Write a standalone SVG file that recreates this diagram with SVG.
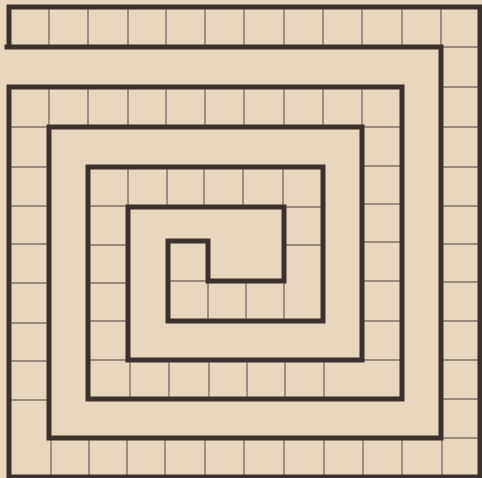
<svg xmlns="http://www.w3.org/2000/svg" width="482" height="478" viewBox="0 0 482 478">
  <style>
    .wall { fill: none; stroke: #3a322d; stroke-width: 5; stroke-linejoin: miter; stroke-linecap: square; }
    .div { stroke: #7d7166; stroke-width: 1.4; fill: none; }
  </style>
  <rect x="0" y="0" width="482" height="478" fill="#e7d8bd"/>
  <g id="dividers">
    <path class="div" d="M49 7V47M88 7V47M128 7V47M166 7V47M205 7V47M244 7V47M284 7V47M323 7V47M362 7V47M402 7V47M441 7V47"/>
    <path class="div" d="M441 47H480M441 87H480M441 127H480M441 167H480M441 206H480M441 244H480M441 282H480M441 321H480M441 360H480M441 399H480M441 438H480"/>
    <path class="div" d="M51 438V477M89 438V477M127 438V477M165 438V477M205 438V477M244 438V477M284 438V477M324 438V477M363 438V477M402 438V477M442 438V477"/>
    <path class="div" d="M9 127H49M9 167H49M9 206H49M9 244H49M9 283H49M9 323H49M9 361H49M9 400H49"/>
    <path class="div" d="M49 87V127M88 87V127M128 87V127M166 87V127M205 87V127M244 87V127M284 87V127M323 87V127M362 87V127"/>
    <path class="div" d="M362 127H402M362 166H402M362 204H402M362 242H402M362 281H402M362 321H402M362 360H402"/>
    <path class="div" d="M130 360V399M169 360V399M209 360V399M247 360V399M285 360V399M324 360V399"/>
    <path class="div" d="M88 206H128M88 245H128M88 283H128M88 321H128M88 360H128"/>
    <path class="div" d="M128 167V206M167 167V206M204 167V206M243 167V206M283 167V206"/>
    <path class="div" d="M284 207H323M284 245H323"/>
    <path class="div" d="M208 282V321M246 282V321M284 282V321"/>
    <path class="div" d="M168 281H208"/>
  </g>
  <g id="walls">
    <path class="wall" d="M9 43V7H480V477H9V87H402V399H88V167H323V321H168V241H208V281H284V207H128V360H362V127H49V438H441V47H7"/>
  </g>
</svg>
